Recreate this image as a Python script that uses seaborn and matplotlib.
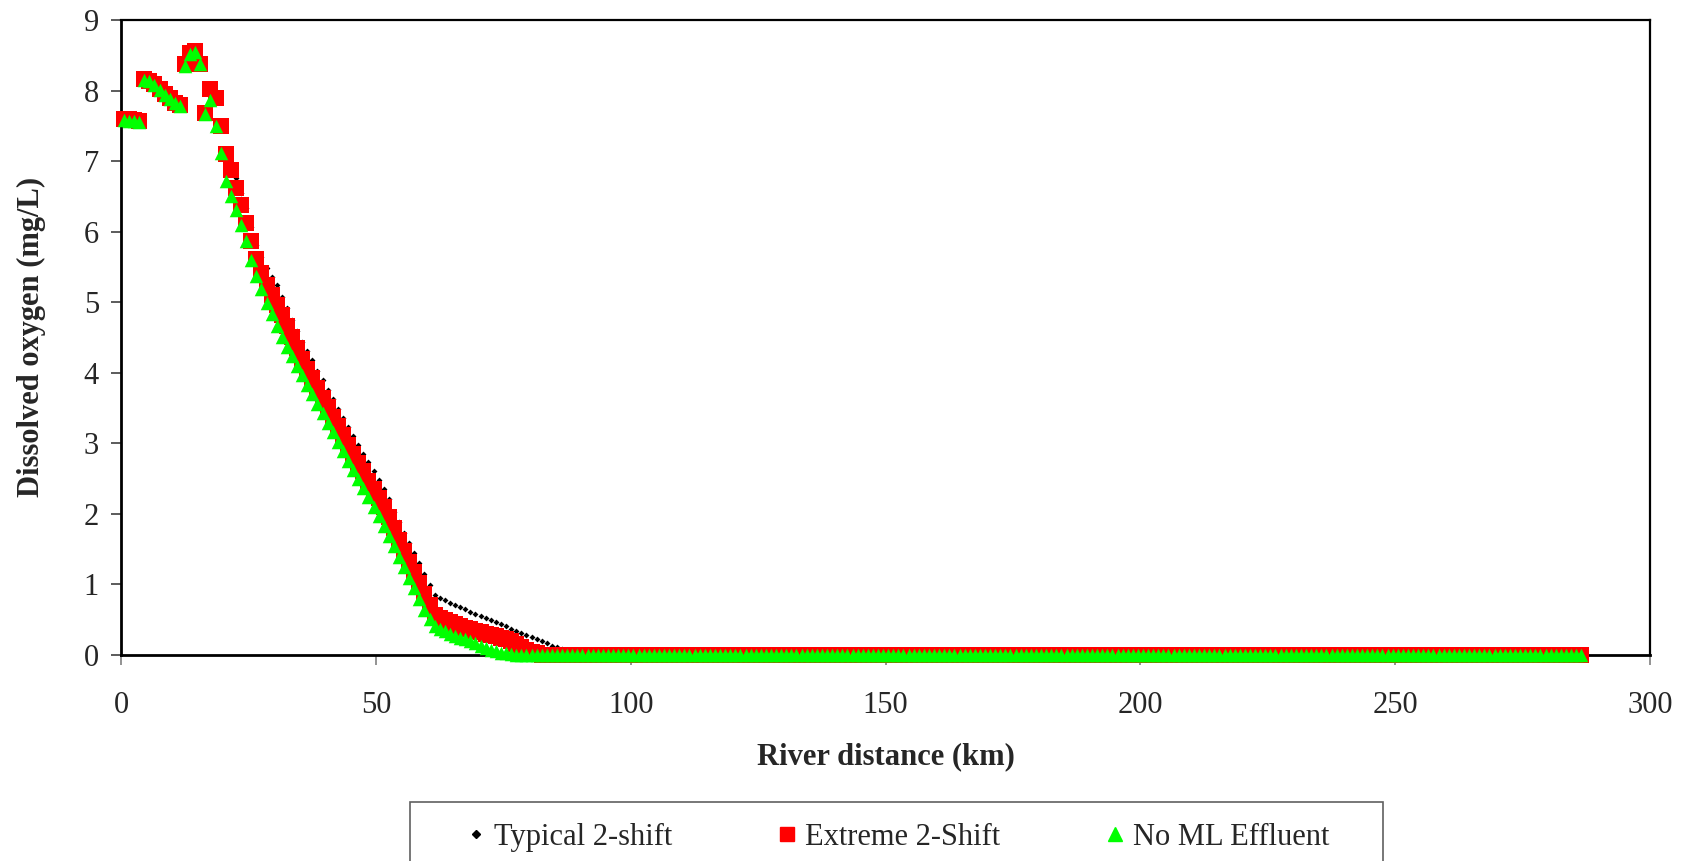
import numpy as np
import pandas as pd
import matplotlib
matplotlib.use("Agg")
import matplotlib.pyplot as plt
from matplotlib.lines import Line2D
from matplotlib.patches import Rectangle
import seaborn as sns

# ---------------- data ----------------
N_POINTS = 287
distance_km = np.arange(0.5, 287.0, 1.0)   # reach mid-points, 1 km spacing

typical_head = [7.60, 7.59, 7.58, 7.57,
                8.16, 8.14, 8.09, 8.02, 7.95, 7.89, 7.83, 7.79,
                8.37, 8.53, 8.56, 8.38,
                7.68, 8.02, 7.90, 7.49, 7.12,
                6.98, 6.76, 6.55, 6.33, 6.06, 5.81, 5.64, 5.48, 5.36, 5.24,
                5.07, 4.91, 4.75, 4.59, 4.43, 4.30, 4.18, 4.02, 3.89, 3.76,
                3.62, 3.49, 3.36, 3.23, 3.10, 2.98, 2.85, 2.73, 2.60, 2.48,
                2.35, 2.21, 2.03, 1.88, 1.72, 1.58, 1.44, 1.30, 1.15, 0.99, 0.85,
                0.81, 0.78, 0.74, 0.71, 0.68, 0.65, 0.61, 0.58, 0.55, 0.52,
                0.49, 0.46, 0.43, 0.40, 0.37, 0.34, 0.31, 0.28, 0.25, 0.22,
                0.19, 0.16, 0.13, 0.11, 0.08, 0.05, 0.02]

extreme_head = [7.60, 7.59, 7.58, 7.57,
                8.16, 8.14, 8.09, 8.02, 7.95, 7.89, 7.83, 7.79,
                8.37, 8.53, 8.56, 8.38,
                7.68, 8.02, 7.90, 7.49, 7.10, 6.88,
                6.62, 6.38, 6.12, 5.86, 5.61, 5.41, 5.24, 5.10, 4.96, 4.81,
                4.66, 4.50, 4.35, 4.19, 4.05, 3.92, 3.78, 3.64, 3.51, 3.37,
                3.24, 3.11, 2.98, 2.85, 2.72, 2.60, 2.47, 2.35, 2.22, 2.09,
                1.95, 1.79, 1.63, 1.47, 1.32, 1.17, 1.01, 0.86, 0.70, 0.56,
                0.52, 0.49, 0.46, 0.43, 0.40, 0.38, 0.36, 0.34, 0.32, 0.30,
                0.28, 0.26, 0.24, 0.22, 0.19, 0.15, 0.11, 0.07, 0.04, 0.02]

no_ml_head = [7.58, 7.57, 7.57, 7.56,
              8.15, 8.14, 8.08, 8.01, 7.94, 7.88, 7.82, 7.78,
              8.35, 8.52, 8.55, 8.37,
              7.67, 7.87, 7.50, 7.11, 6.72, 6.51, 6.30, 6.09, 5.87, 5.60,
              5.37, 5.18, 4.99, 4.83, 4.66, 4.50, 4.37,
              4.24, 4.10, 3.97, 3.83, 3.70, 3.56, 3.43, 3.29, 3.16, 3.02,
              2.89, 2.75, 2.62, 2.49, 2.36, 2.23, 2.10, 1.97, 1.83, 1.69,
              1.54, 1.39, 1.24, 1.09, 0.94, 0.79, 0.64, 0.50, 0.40,
              0.36, 0.33, 0.30, 0.27, 0.24, 0.22, 0.19, 0.16, 0.13, 0.10,
              0.07, 0.05, 0.03, 0.02, 0.01]

# anoxic (0 mg/L) downstream of the sag
typical_do = typical_head + [0.0] * (N_POINTS - len(typical_head))
extreme_do = extreme_head + [0.0] * (N_POINTS - len(extreme_head))
no_ml_do = no_ml_head + [0.0] * (N_POINTS - len(no_ml_head))

series_labels = ["Typical 2-shift", "Extreme 2-Shift", "No ML Effluent"]
x_ticks = [0, 50, 100, 150, 200, 250, 300]
y_ticks = [0, 1, 2, 3, 4, 5, 6, 7, 8, 9]

df = pd.DataFrame({
    "distance": np.concatenate([distance_km] * 3),
    "do": typical_do + extreme_do + no_ml_do,
    "scenario": np.repeat(series_labels, N_POINTS),
})

# ---------------- style ----------------
sns.set_style("white")
plt.rcParams["font.family"] = ["Liberation Serif", "DejaVu Serif"]

W, H, DPI = 1688, 861, 100
fig = plt.figure(figsize=(W / DPI, H / DPI), dpi=DPI)
ax = fig.add_axes([121.3 / W, 1 - 654.7 / H, (1650 - 121.3) / W, (654.7 - 20) / H])

styles = {
    "Typical 2-shift": dict(marker="D", s=9, color="black", zorder=4),
    "Extreme 2-Shift": dict(marker="s", s=125, color="#FF0000", zorder=5),
    "No ML Effluent": dict(marker="^", s=95, color="#00FF00", zorder=6),
}
for lab in series_labels:
    st = styles[lab]
    sns.scatterplot(data=df[df["scenario"] == lab], x="distance", y="do",
                    ax=ax, marker=st["marker"], s=st["s"], color=st["color"],
                    linewidth=0, zorder=st["zorder"], clip_on=False,
                    legend=False)

ax.set_xlim(0, 300)
ax.set_ylim(0, 9)
ax.set_xticks(x_ticks)
ax.set_yticks(y_ticks)
ax.set_xticklabels([str(t) for t in x_ticks])
ax.set_yticklabels([str(t) for t in y_ticks])

for side in ["left", "bottom", "top", "right"]:
    ax.spines[side].set_visible(True)
    ax.spines[side].set_color("black")
ax.spines["left"].set_linewidth(2.0)
ax.spines["bottom"].set_linewidth(2.0)
ax.spines["top"].set_linewidth(1.6)
ax.spines["right"].set_linewidth(1.6)

ax.tick_params(axis="x", which="major", direction="out", length=7, width=1.2,
               color="#808080", labelsize=22, pad=19, bottom=True)
ax.tick_params(axis="y", which="major", direction="out", length=7, width=1.2,
               color="#404040", labelsize=22, pad=9, left=True)

ax.set_xlabel("River distance (km)", fontsize=22, fontweight="bold", labelpad=16)
ax.set_ylabel("Dissolved oxygen (mg/L)", fontsize=22, fontweight="bold", labelpad=27)
ax.grid(False)

# legend box (runs off the bottom of the figure, as in the original)
fig.patches.append(Rectangle((410 / W, -0.06), 973 / W, (1 - 802 / H) + 0.06,
                             transform=fig.transFigure, fill=True,
                             facecolor="white", edgecolor="#606060",
                             linewidth=1.2, zorder=1))

handles = [
    Line2D([], [], linestyle="none", marker="D", markersize=4, color="black"),
    Line2D([], [], linestyle="none", marker="s", markersize=10, color="#FF0000"),
    Line2D([], [], linestyle="none", marker="^", markersize=10, color="#00FF00"),
]
leg = fig.legend(handles, series_labels, loc="center",
                 bbox_to_anchor=(896 / W, 1 - 837 / H),
                 ncol=3, fontsize=22, frameon=False,
                 borderaxespad=0, borderpad=0.0,
                 handletextpad=0.15, handlelength=0.9, columnspacing=3.3)
leg.set_zorder(3)

fig.savefig("out.png", dpi=DPI, facecolor="white")
